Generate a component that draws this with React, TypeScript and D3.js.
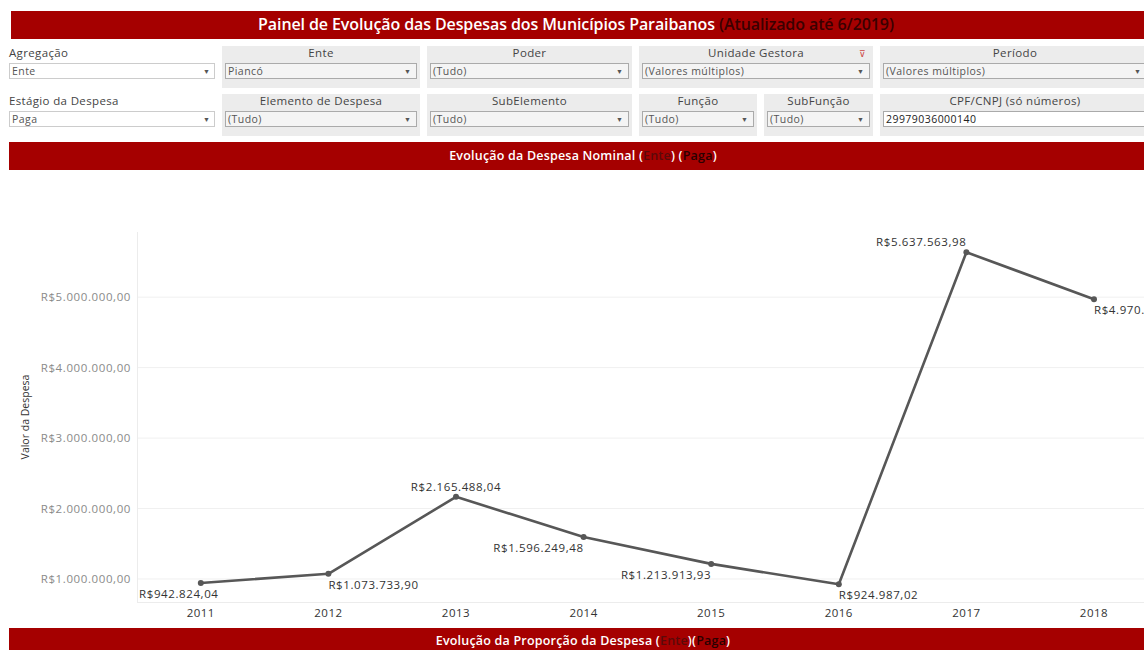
import React from "react";
import * as d3 from "d3";

// data
const years = ["2011", "2012", "2013", "2014", "2015", "2016", "2017", "2018"];
const despesa = [942824.04, 1073733.9, 2165488.04, 1596249.48, 1213913.93, 924987.02, 5637563.98, 4970796.9];
const yTicks = [1000000, 2000000, 3000000, 4000000, 5000000];

const filterLabels1 = ["Agregação", "Ente", "Poder", "Unidade Gestora", "Período"];
const filterValues1 = ["Ente", "Piancó", "(Tudo)", "(Valores múltiplos)", "(Valores múltiplos)"];
const filterLabels2 = ["Estágio da Despesa", "Elemento de Despesa", "SubElemento", "Função", "SubFunção", "CPF/CNPJ (só números)"];
const filterValues2 = ["Paga", "(Tudo)", "(Tudo)", "(Tudo)", "(Tudo)", "29979036000140"];

// label placement per point (Tableau avoids overlaps)
const labelPlace = [
  { above: false, anchor: "middle", dx: -22 },
  { above: false, anchor: "start", dx: 0 },
  { above: true, anchor: "middle", dx: 0 },
  { above: false, anchor: "end", dx: 0 },
  { above: false, anchor: "end", dx: 0 },
  { above: false, anchor: "start", dx: 0 },
  { above: true, anchor: "end", dx: 0 },
  { above: false, anchor: "start", dx: 0 },
];

const RED = "#a50000";
const FONT = "'Open Sans', sans-serif";

const ptBR = d3.formatLocale({
  decimal: ",",
  thousands: ".",
  grouping: [3],
  currency: ["R$", ""],
});
const fmt = ptBR.format("$,.2f");

function Filter(props: { x: number; y: number; w: number; label: string; value: string; panel: boolean; text?: boolean; icon?: boolean }) {
  const { x, y, w, label, value, panel, text, icon } = props;
  return (
    <g>
      {panel && <rect x={x} y={y} width={w} height={42} fill="#ececec" />}
      <text
        x={panel ? x + w / 2 : x}
        y={y + 11}
        textAnchor={panel ? "middle" : "start"}
        fontSize={11.5}
        letterSpacing={0.35}
        fill="#444"
        fontFamily={FONT}
      >
        {label}
      </text>
      {icon && (
        <text x={x + w - 14} y={y + 11} fontSize={9} fill="#c44" fontFamily={FONT}>
          ⊽
        </text>
      )}
      <rect
        x={x + (panel ? 3 : 0) + 0.5}
        y={y + 17.5}
        width={w - (panel ? 6 : 0) - 1}
        height={15}
        fill={panel && !text ? "#f4f4f4" : "#fff"}
        stroke={panel ? "#aaa" : "#ccc"}
      />
      <text
        x={x + (panel ? 6 : 3)}
        y={y + 29}
        fontSize={10.5}
        letterSpacing={0.45}
        fill={text ? "#222" : "#555"}
        fontFamily={FONT}
      >
        {value}
      </text>
      {!text && (
        <text x={x + w - (panel ? 16 : 12)} y={y + 28} fontSize={7} fill="#555" fontFamily={FONT}>
          ▼
        </text>
      )}
    </g>
  );
}

export default function App() {
  const W = 1144;
  const H = 650;

  const x = d3.scaleBand<string>().domain(years).range([137, 137 + 127.6 * years.length]).padding(0);
  const y = d3.scaleLinear().domain([673000, 5925000]).range([602, 232]);

  const line = d3
    .line<number>()
    .x((_, i) => (x(years[i]) as number) + x.bandwidth() / 2)
    .y((d) => y(d));

  const row1 = [
    { x: 9, w: 206, panel: false },
    { x: 222, w: 198, panel: true },
    { x: 427, w: 205, panel: true },
    { x: 639, w: 234, panel: true, icon: true },
    { x: 880, w: 270, panel: true },
  ];
  const row2 = [
    { x: 9, w: 206, panel: false },
    { x: 222, w: 198, panel: true },
    { x: 427, w: 205, panel: true },
    { x: 639, w: 118, panel: true },
    { x: 764, w: 109, panel: true },
    { x: 880, w: 270, panel: true, text: true },
  ];

  return (
    <svg
      width={W}
      height={H}
      style={{ position: "fixed", left: 0, top: 0, background: "#fff" }}
    >
      {/* title bar */}
      <rect x={11} y={11} width={W - 11} height={28} fill={RED} />
      <text x={576} y={30} textAnchor="middle" fontSize={16} fontFamily={FONT} fontWeight={600} letterSpacing={-0.1}>
        <tspan fill="#fff">Painel de Evolução das Despesas dos Municípios Paraibanos </tspan>
        <tspan fill="#3a0000">(Atualizado até 6/2019)</tspan>
      </text>

      {/* filters */}
      {row1.map((f, i) => (
        <Filter key={"a" + i} x={f.x} y={46} w={f.w} label={filterLabels1[i]} value={filterValues1[i]} panel={f.panel} icon={f.icon} />
      ))}
      {row2.map((f, i) => (
        <Filter key={"b" + i} x={f.x} y={94} w={f.w} label={filterLabels2[i]} value={filterValues2[i]} panel={f.panel} text={f.text} />
      ))}

      {/* section bar */}
      <rect x={9} y={142} width={W - 9} height={28} fill={RED} />
      <text x={583} y={160} textAnchor="middle" fontSize={12.5} fontFamily={FONT} fontWeight={600} letterSpacing={0.2}>
        <tspan fill="#fff">Evolução da Despesa Nominal (</tspan>
        <tspan fill="#5a0a0a">Ente</tspan>
        <tspan fill="#fff">) (</tspan>
        <tspan fill="#2a0000">Paga</tspan>
        <tspan fill="#fff">)</tspan>
      </text>

      {/* chart */}
      <g>
        {yTicks.map((t) => (
          <g key={t}>
            <line x1={137} x2={W} y1={y(t)} y2={y(t)} stroke="#f0f0f0" />
            <text x={131} y={y(t) + 4} textAnchor="end" fontSize={11.5} letterSpacing={0.6} fill="#8a8a8a" fontFamily={FONT}>
              {fmt(t)}
            </text>
          </g>
        ))}
        <line x1={137.5} x2={137.5} y1={232} y2={602} stroke="#ececec" />
        <line x1={137} x2={W} y1={602.5} y2={602.5} stroke="#ececec" />
        <text
          transform={`translate(29,${417}) rotate(-90)`}
          textAnchor="middle"
          fontSize={10.5}
          fill="#333"
          fontFamily={FONT}
        >
          Valor da Despesa
        </text>
        {years.map((yr) => (
          <text
            key={yr}
            x={(x(yr) as number) + x.bandwidth() / 2}
            y={617}
            textAnchor="middle"
            fontSize={11.5}
            letterSpacing={0.5}
            fill="#333"
            fontFamily={FONT}
          >
            {yr}
          </text>
        ))}
        <path d={line(despesa) || ""} fill="none" stroke="#575757" strokeWidth={2.6} strokeLinejoin="round" />
        {despesa.map((v, i) => (
          <circle key={i} cx={(x(years[i]) as number) + x.bandwidth() / 2} cy={y(v)} r={3} fill="#575757" />
        ))}
        {despesa.map((v, i) => {
          const p = labelPlace[i];
          return (
            <text
              key={"l" + i}
              x={(x(years[i]) as number) + x.bandwidth() / 2 + p.dx}
              y={p.above ? y(v) - 6 : y(v) + 15}
              textAnchor={p.anchor as any}
              fontSize={11.5}
              letterSpacing={0.6}
              fill="#333"
              fontFamily={FONT}
            >
              {fmt(v)}
            </text>
          );
        })}
      </g>

      {/* bottom section bar */}
      <rect x={9} y={628} width={W - 9} height={22} fill={RED} />
      <text x={583} y={645} textAnchor="middle" fontSize={12.5} fontFamily={FONT} fontWeight={600} letterSpacing={0.2}>
        <tspan fill="#fff">Evolução da Proporção da Despesa (</tspan>
        <tspan fill="#5a0a0a">Ente</tspan>
        <tspan fill="#fff">)(</tspan>
        <tspan fill="#2a0000">Paga</tspan>
        <tspan fill="#fff">)</tspan>
      </text>
    </svg>
  );
}
